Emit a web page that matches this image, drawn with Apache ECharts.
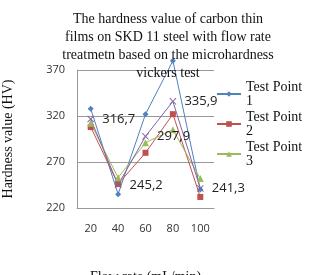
<!DOCTYPE html>
<html>
<head>
<meta charset="utf-8">
<script src="https://cdn.jsdelivr.net/npm/echarts@6/dist/echarts.min.js"></script>
<style>
html, body { margin: 0; padding: 0; background: #fff; }
#chart { width: 309px; height: 275px; }
</style>
</head>
<body>
<div id="chart"></div>
<script>
// flow rate categories (mL/min)
var flowRates = ['20', '40', '60', '80', '100'];
var testPoint1 = [328, 235, 322, 380, 240];
var testPoint2 = [308, 246, 280, 322, 232];
var testPoint3 = [312, 253, 291, 305, 252];
var average = [316.7, 245.2, 297.9, 335.9, 241.3];

var serif = 'Liberation Serif';
var xPath = 'path://M0,1L1,0L5,4L9,0L10,1L6,5L10,9L9,10L5,6L1,10L0,9L4,5Z';

function mkSeries(name, data, color, symbol, size) {
    return {
        name: name,
        type: 'line',
        data: data,
        symbol: symbol,
        symbolSize: size,
        showSymbol: true,
        clip: false,
        lineStyle: { color: color, width: 1 },
        itemStyle: { color: color },
        animation: false
    };
}

var avgSeries = mkSeries('Average', average, '#8064A2', xPath, 7);
avgSeries.label = {
    show: true,
    position: 'right',
    distance: 8,
    fontFamily: 'Open Sans',
    fontSize: 13,
    color: '#222',
    formatter: function (p) { return p.value.toFixed(1).replace('.', ','); }
};

var chart = echarts.init(document.getElementById('chart'));
chart.setOption({
    backgroundColor: '#fff',
    animation: false,
    title: {
        text: 'The hardness value of carbon thin\nfilms on SKD 11 steel with flow rate\ntreatmetn based on the microhardness\nvickers test',
        left: 163,
        top: 5,
        textAlign: 'center',
        textStyle: { fontFamily: serif, fontSize: 14, fontWeight: 'normal', color: '#111', lineHeight: 18 }
    },
    legend: {
        data: ['Test Point 1', 'Test Point 2', 'Test Point 3'],
        orient: 'vertical',
        left: 216,
        top: 80,
        padding: 0,
        itemWidth: 24,
        itemHeight: 7,
        itemGap: 2,
        formatter: function (n) { return n.replace('Point ', 'Point\n'); },
        textStyle: { fontFamily: serif, fontSize: 14, color: '#111', lineHeight: 14 }
    },
    grid: { left: 77, right: 95, top: 70, bottom: 67, outerBoundsMode: 'none', containLabel: false },
    xAxis: {
        type: 'category',
        data: flowRates,
        name: 'Flow rate (mL/min)',
        nameLocation: 'middle',
        nameGap: 62,
        nameTextStyle: { fontFamily: serif, fontSize: 14, color: '#111' },
        axisLine: { lineStyle: { color: '#999' } },
        axisTick: { show: false },
        axisLabel: { margin: 15, fontFamily: 'Open Sans', fontSize: 11, color: '#333' }
    },
    yAxis: {
        type: 'value',
        min: 220,
        max: 370,
        interval: 50,
        name: 'Hardness value (HV)',
        nameLocation: 'middle',
        nameGap: 62,
        nameTextStyle: { fontFamily: serif, fontSize: 14, color: '#111' },
        axisLine: { show: true, lineStyle: { color: '#999' } },
        axisTick: { show: false },
        axisLabel: { margin: 12, fontFamily: 'Open Sans', fontSize: 11, color: '#333' },
        splitLine: { lineStyle: { color: '#999' } }
    },
    series: [
        mkSeries('Test Point 1', testPoint1, '#4F81BD', 'diamond', 6),
        mkSeries('Test Point 2', testPoint2, '#C0504D', 'rect', 6),
        mkSeries('Test Point 3', testPoint3, '#9BBB59', 'triangle', 7),
        avgSeries
    ]
});
</script>
</body>
</html>
